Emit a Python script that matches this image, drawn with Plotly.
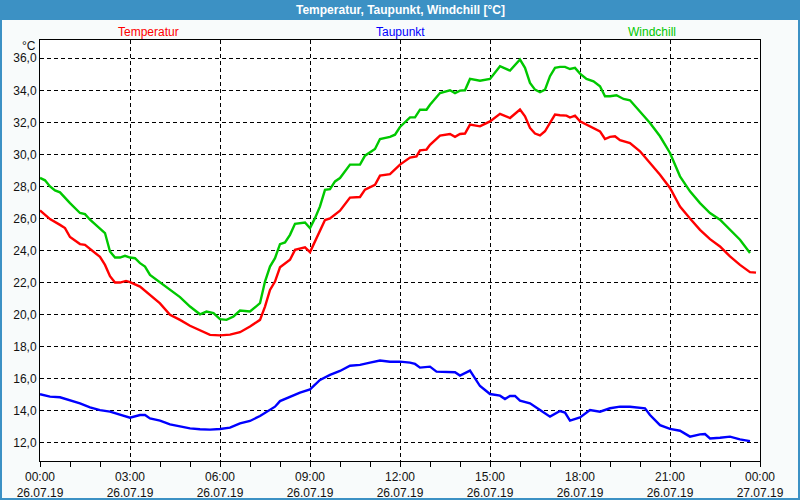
import pandas as pd
import plotly.graph_objects as go

# ── Data: minutes after midnight (26.07.19) and readings in °C
DAY = pd.Timestamp("2019-07-26")

TEMP_MIN = [0, 20, 40, 50, 60, 80, 90, 100, 120, 130, 140, 150, 160, 172, 180, 200, 220, 240,
            260, 280, 300, 320, 340, 360, 380, 400, 420, 440, 450, 460, 470, 480,
            500, 510, 520, 530, 540, 550, 560, 570, 580, 600, 620, 640, 650, 670, 680, 700,
            720, 740, 753, 760, 773, 780, 800, 820, 830, 840, 850, 860, 880, 900, 920, 940, 960,
            970, 980, 990, 1000, 1010, 1020, 1030, 1040, 1053, 1060, 1070, 1080, 1100, 1120,
            1130, 1140, 1150, 1160, 1180, 1200, 1220, 1240, 1260, 1280, 1300, 1320, 1340,
            1360, 1380, 1400, 1420, 1432]
TEMP_VAL = [26.5, 25.96, 25.6, 25.4, 24.84, 24.4, 24.35, 24.1, 23.6, 23.1, 22.4, 22.0, 22.0, 22.1,
            22.03, 21.75, 21.2, 20.7, 19.98, 19.67, 19.3, 19.0, 18.73, 18.7, 18.75, 18.9, 19.25,
            19.67, 20.5, 21.54, 22.06, 22.95,
            23.42, 24.04, 24.1, 24.2, 23.9, 24.56, 25.19, 25.9, 26.0, 26.48, 27.3, 27.34, 27.8,
            28.1, 28.67, 28.77, 29.36, 29.8, 29.87, 30.25, 30.3, 30.6, 31.17, 31.27, 31.1, 31.27,
            31.3, 31.86, 31.75, 32.06, 32.53, 32.27, 32.8,
            32.38, 31.65, 31.3, 31.19, 31.44, 31.96, 32.48, 32.44, 32.42, 32.3, 32.42, 32.06,
            31.75, 31.44, 30.96, 31.09, 31.13, 30.88, 30.71, 30.19, 29.46, 28.73, 27.9, 26.75,
            26.0, 25.29, 24.71, 24.25, 23.63, 23.1, 22.65, 22.62]

DEW_MIN = [0, 20, 40, 60, 80, 100, 120, 140, 160, 180, 200, 210, 220, 240, 260, 280, 300, 320,
           340, 360, 380, 400, 420, 440, 460, 470, 480, 500, 520, 540, 560, 580, 600, 620, 640,
           660, 680, 700, 720, 740, 750, 760, 780, 793, 820, 830, 840, 860, 880, 900, 920, 930,
           940, 950, 960, 980, 1000, 1020, 1040, 1050, 1060, 1080, 1100, 1120, 1140, 1160, 1180,
           1200, 1210, 1220, 1240, 1260, 1280, 1300, 1320, 1330, 1340, 1360, 1380, 1400, 1420]
DEW_VAL = [15.03, 14.88, 14.84, 14.67, 14.46, 14.21, 14.04, 13.94, 13.73, 13.56, 13.73, 13.73,
           13.52, 13.38, 13.15, 13.04, 12.9, 12.84, 12.82, 12.86, 12.94, 13.21, 13.36, 13.67,
           14.04, 14.25, 14.6, 14.88, 15.13, 15.33, 15.92, 16.23, 16.48, 16.81, 16.86, 17.0,
           17.13, 17.06, 17.06, 17.0, 16.92, 16.69, 16.75, 16.44, 16.44, 16.4, 16.19, 16.5,
           15.54, 15.04, 14.94, 14.73, 14.92, 14.92, 14.63, 14.46, 14.04, 13.63, 13.98, 13.88,
           13.38, 13.58, 14.04, 13.94, 14.15, 14.25, 14.25, 14.21, 14.15, 13.73, 13.1, 12.86,
           12.75, 12.38, 12.52, 12.54, 12.27, 12.31, 12.38, 12.21, 12.1]

WIND_MIN = [0, 10, 20, 30, 40, 50, 60, 80, 90, 100, 120, 130, 140, 150, 160, 170, 180, 190, 200,
            210, 220, 240, 260, 280, 300, 320, 333, 347, 360, 373, 387, 400, 420, 440, 450, 460,
            470, 480, 490, 500, 510, 520, 530, 540, 550, 560, 570, 580, 590, 600, 620, 640, 650,
            670, 680, 700, 710, 720, 740, 750, 760, 773, 780, 800, 820, 830, 840, 850, 860, 880,
            900, 920, 940, 960, 970, 980, 990, 1000, 1010, 1020, 1030, 1040, 1050, 1060, 1070,
            1080, 1093, 1107, 1120, 1130, 1140, 1153, 1167, 1180, 1200, 1220, 1240, 1260, 1280,
            1300, 1320, 1340, 1360, 1380, 1400, 1420]
WIND_VAL = [28.53, 28.38, 28.0, 27.75, 27.63, 27.27, 26.96, 26.34, 26.27, 25.92, 25.4, 25.09,
            23.94, 23.56, 23.56, 23.67, 23.56, 23.52, 23.21, 23.0, 22.48, 22.0, 21.54, 21.09,
            20.5, 20.02, 20.19, 20.09, 19.71, 19.67, 19.88, 20.25, 20.19, 20.71, 22.06, 23.0,
            23.52, 24.4, 24.5, 24.98, 25.67, 25.71, 25.75, 25.4, 26.02, 26.75, 27.79, 27.83,
            28.31, 28.52, 29.36, 29.36, 29.92, 30.34, 30.96, 31.09, 31.23, 31.71, 32.31, 32.31,
            32.79, 32.79, 33.1, 33.83, 34.0, 33.83, 33.98, 34.0, 34.71, 34.6, 34.71, 35.5, 35.23,
            35.92, 35.4, 34.46, 34.04, 33.88, 34.04, 34.88, 35.4, 35.46, 35.46, 35.33, 35.4,
            35.04, 34.71, 34.56, 34.25, 33.63, 33.63, 33.69, 33.46, 33.38, 32.69, 31.96, 31.13,
            30.09, 28.63, 27.69, 26.96, 26.34, 25.92, 25.29, 24.67, 23.84]

Y_TICKS = [12, 14, 16, 18, 20, 22, 24, 26, 28, 30, 32, 34, 36]

# ── Style
FONT = "Liberation Sans, Arial, sans-serif"
BAR_BLUE = "#3c91c4"
RED, BLUE, GREEN = "#ff0000", "#0000ff", "#00c800"
GRID = dict(showgrid=True, gridcolor="black", gridwidth=1, griddash="4px,3px")

# pixel -> paper helpers (plot area: x 40..760, y 40..461)
def px(x):
    return (x - 40) / 720


def py(y):
    return (461 - y) / 421


def to_time(mins):
    return DAY + pd.to_timedelta(mins, unit="min")


def label(x, y, text, color, size=12, anchor="center"):
    fig.add_annotation(x=px(x), y=py(y), xref="paper", yref="paper", text=text,
                       xanchor=anchor, yanchor="middle", showarrow=False,
                       font=dict(color=color, size=size, family=FONT))


fig = go.Figure()
for mins, vals, name, color in [
    (TEMP_MIN, TEMP_VAL, "Temperatur", RED),
    (DEW_MIN, DEW_VAL, "Taupunkt", BLUE),
    (WIND_MIN, WIND_VAL, "Windchill", GREEN),
]:
    fig.add_trace(go.Scatter(
        x=to_time(mins), y=vals, mode="lines", name=name,
        line=dict(color=color, width=2.4), showlegend=False,
    ))

# series labels above the plot
label(148, 32, "Temperatur", RED)
label(400, 32, "Taupunkt", BLUE)
label(652, 32, "Windchill", GREEN)
label(38, 46, "°C", "#111", anchor="right")

# title bar and outer frame
fig.add_shape(type="rect", xref="paper", yref="paper",
              x0=px(0), x1=px(800), y0=py(20), y1=py(0),
              fillcolor=BAR_BLUE, line_width=0, layer="above")
fig.add_shape(type="rect", xref="paper", yref="paper",
              x0=px(0), x1=px(800), y0=py(500), y1=py(0),
              line=dict(color=BAR_BLUE, width=4), fillcolor="rgba(0,0,0,0)", layer="above")
label(400, 10, "<b>Temperatur, Taupunkt, Windchill [°C]</b>", "white")

fig.update_layout(
    width=800, height=500,
    margin=dict(l=40, r=40, t=40, b=39),
    paper_bgcolor="#f8fbfb",
    plot_bgcolor="white",
    separators=",.",
    font=dict(family=FONT, size=12, color="#111"),
    showlegend=False,
)
fig.update_xaxes(
    type="date",
    range=[DAY, DAY + pd.Timedelta(days=1)],
    tick0=DAY, dtick=3 * 3600 * 1000,
    tickformat="%H:%M<br>%d.%m.%y",
    ticks="outside", ticklen=5, tickcolor="black",
    minor=dict(dtick=3600 * 1000, ticks="outside", ticklen=5, tickcolor="black", showgrid=False),
    showline=True, linecolor="black", linewidth=1, mirror=True,
    zeroline=False, automargin=False, **GRID,
)
fig.update_yaxes(
    range=[10.86, 37.14],
    tickvals=Y_TICKS, tickformat=".1f",
    showline=True, linecolor="black", linewidth=1, mirror=True,
    zeroline=False, automargin=False, **GRID,
)

fig.write_html("out.html", config={"displayModeBar": False},
               post_script="document.body.style.margin='0';")
